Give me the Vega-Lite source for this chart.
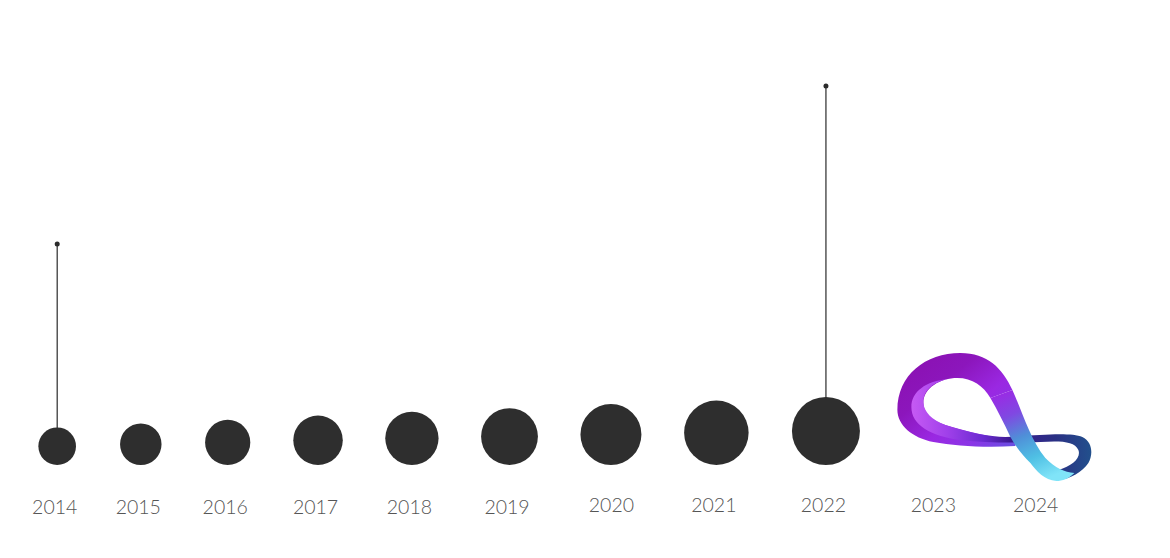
{
  "$schema": "https://vega.github.io/schema/vega-lite/v6.json",
  "width": 1170,
  "height": 490,
  "autosize": "none",
  "padding": {"left": 0, "top": 0, "right": 0, "bottom": 68},
  "background": "white",
  "config": {"view": {"stroke": null}},
  "datasets": {
    "years": [
      {"year": 2014, "value": 37.6, "peak": 442},
      {"year": 2015, "value": 41.5},
      {"year": 2016, "value": 45.2},
      {"year": 2017, "value": 49.5},
      {"year": 2018, "value": 53.3},
      {"year": 2019, "value": 56.8},
      {"year": 2020, "value": 61},
      {"year": 2021, "value": 64.5},
      {"year": 2022, "value": 68, "peak": 758}
    ],
    "logo": [
      {"year": 2023.47, "value": 97}
    ]
  },
  "encoding": {
    "x": {
      "field": "year",
      "type": "quantitative",
      "scale": {"type": "pow", "exponent": 78.99, "domain": [2013.2929, 2024.9106], "nice": false, "zero": false},
      "axis": {
        "values": [2014, 2015, 2016, 2017, 2018, 2019, 2020, 2021, 2022, 2023, 2024],
        "format": "d",
        "title": null,
        "domain": false,
        "ticks": false,
        "tickSize": 0,
        "grid": false,
        "labelFont": "Lato",
        "labelFontSize": 19.5,
        "labelFontWeight": 300,
        "labelColor": "#555555",
        "labelFlush": false,
        "labelOverlap": false,
        "labelBaseline": "top",
        "labelPadding": {"condition": {"test": "datum.value >= 2020", "value": 6}, "value": 8},
        "labelOffset": {"condition": [{"test": "datum.value == 2024", "value": -23}, {"test": "datum.value == 2023", "value": -7}, {"test": "datum.value == 2020", "value": 0}], "value": -3}
      }
    }
  },
  "layer": [
    {
      "data": {"name": "years"},
      "transform": [{"filter": "isValid(datum.peak)"}],
      "mark": {"type": "rule", "color": "#2b2b2b", "strokeWidth": 1.2},
      "encoding": {
        "y": {"field": "peak", "type": "quantitative", "axis": null, "scale": {"domain": [-50, 930], "nice": false, "zero": false}},
        "y2": {"field": "value"}
      }
    },
    {
      "data": {"name": "years"},
      "transform": [{"filter": "isValid(datum.peak)"}],
      "mark": {"type": "point", "filled": true, "color": "#2b2b2b", "opacity": 1, "size": 25},
      "encoding": {
        "y": {"field": "peak", "type": "quantitative", "axis": null}
      }
    },
    {
      "data": {"name": "years"},
      "mark": {"type": "point", "filled": true, "color": "#2e2e2e", "opacity": 1, "shape": "circle"},
      "encoding": {
        "y": {"field": "value", "type": "quantitative", "axis": null},
        "size": {
          "field": "value",
          "type": "quantitative",
          "scale": {"type": "pow", "exponent": 2, "domain": [0, 100], "range": [0, 10000]},
          "legend": null
        }
      }
    },
    {
      "data": {"name": "logo"},
      "mark": {
        "type": "point",
        "filled": true,
        "opacity": 1,
        "size": 40000,
        "strokeWidth": 0,
        "shape": "M0.205,0.295C-0.095,0.315,-0.395,0.295,-0.615,0.255C-0.825,0.215,-0.975,0.085,-0.975,-0.065C-0.975,-0.415,-0.695,-0.635,-0.345,-0.635C-0.075,-0.635,0.075,-0.485,0.175,-0.265L-0.045,-0.185C-0.115,-0.305,-0.225,-0.385,-0.375,-0.385C-0.545,-0.385,-0.715,-0.285,-0.715,-0.135C-0.715,-0.025,-0.625,0.045,-0.495,0.085C-0.295,0.145,-0.045,0.205,0.205,0.245Z",
        "color": {
          "gradient": "linear", "x1": 0, "y1": 0, "x2": 1, "y2": 1,
          "stops": [
            {"offset": 0, "color": "#8a0fae"},
            {"offset": 0.35, "color": "#8c16bc"},
            {"offset": 0.6, "color": "#9a28e2"},
            {"offset": 0.8, "color": "#8a36e6"},
            {"offset": 1, "color": "#6650e0"}
          ]
        }
      },
      "encoding": {
        "y": {"field": "value", "type": "quantitative", "axis": null}
      }
    },
    {
      "data": {"name": "logo"},
      "mark": {
        "type": "point",
        "filled": true,
        "opacity": 1,
        "size": 40000,
        "strokeWidth": 0,
        "shape": "M-0.465,-0.375C-0.695,-0.355,-0.835,-0.245,-0.835,-0.095C-0.835,0.085,-0.645,0.195,-0.345,0.235C-0.095,0.265,0.205,0.265,0.455,0.255C0.655,0.245,0.795,0.245,0.835,0.335C0.865,0.415,0.775,0.495,0.635,0.535L0.635,0.635C0.755,0.625,0.875,0.555,0.935,0.465C0.985,0.375,0.975,0.255,0.875,0.205C0.755,0.155,0.455,0.185,0.105,0.205C-0.045,0.205,-0.295,0.155,-0.495,0.085C-0.625,0.035,-0.715,-0.045,-0.715,-0.145C-0.715,-0.265,-0.615,-0.345,-0.465,-0.375Z",
        "color": {
          "gradient": "linear", "x1": 0, "y1": 0, "x2": 1, "y2": 0,
          "stops": [
            {"offset": 0, "color": "#c65af4"},
            {"offset": 0.2, "color": "#a040ea"},
            {"offset": 0.4, "color": "#6a2ad0"},
            {"offset": 0.55, "color": "#3c1a90"},
            {"offset": 0.8, "color": "#2a3084"},
            {"offset": 1, "color": "#22508c"}
          ]
        }
      },
      "encoding": {
        "y": {"field": "value", "type": "quantitative", "axis": null}
      }
    },
    {
      "data": {"name": "logo"},
      "mark": {
        "type": "point",
        "filled": true,
        "opacity": 1,
        "size": 40000,
        "strokeWidth": 0,
        "shape": "M-0.045,-0.185L0.175,-0.265C0.275,-0.045,0.355,0.235,0.505,0.415C0.605,0.515,0.695,0.555,0.795,0.565C0.735,0.625,0.675,0.645,0.615,0.645C0.495,0.635,0.415,0.545,0.355,0.465C0.275,0.385,0.205,0.295,0.155,0.205C0.095,0.075,0.025,-0.065,-0.045,-0.185Z",
        "color": {
          "gradient": "linear", "x1": 0.2, "y1": 0, "x2": 0.6, "y2": 1,
          "stops": [
            {"offset": 0, "color": "#9a2ae4"},
            {"offset": 0.25, "color": "#8048e2"},
            {"offset": 0.5, "color": "#4f8fd8"},
            {"offset": 0.75, "color": "#4fc0e4"},
            {"offset": 1, "color": "#80e4f8"}
          ]
        }
      },
      "encoding": {
        "y": {"field": "value", "type": "quantitative", "axis": null}
      }
    }
  ]
}
